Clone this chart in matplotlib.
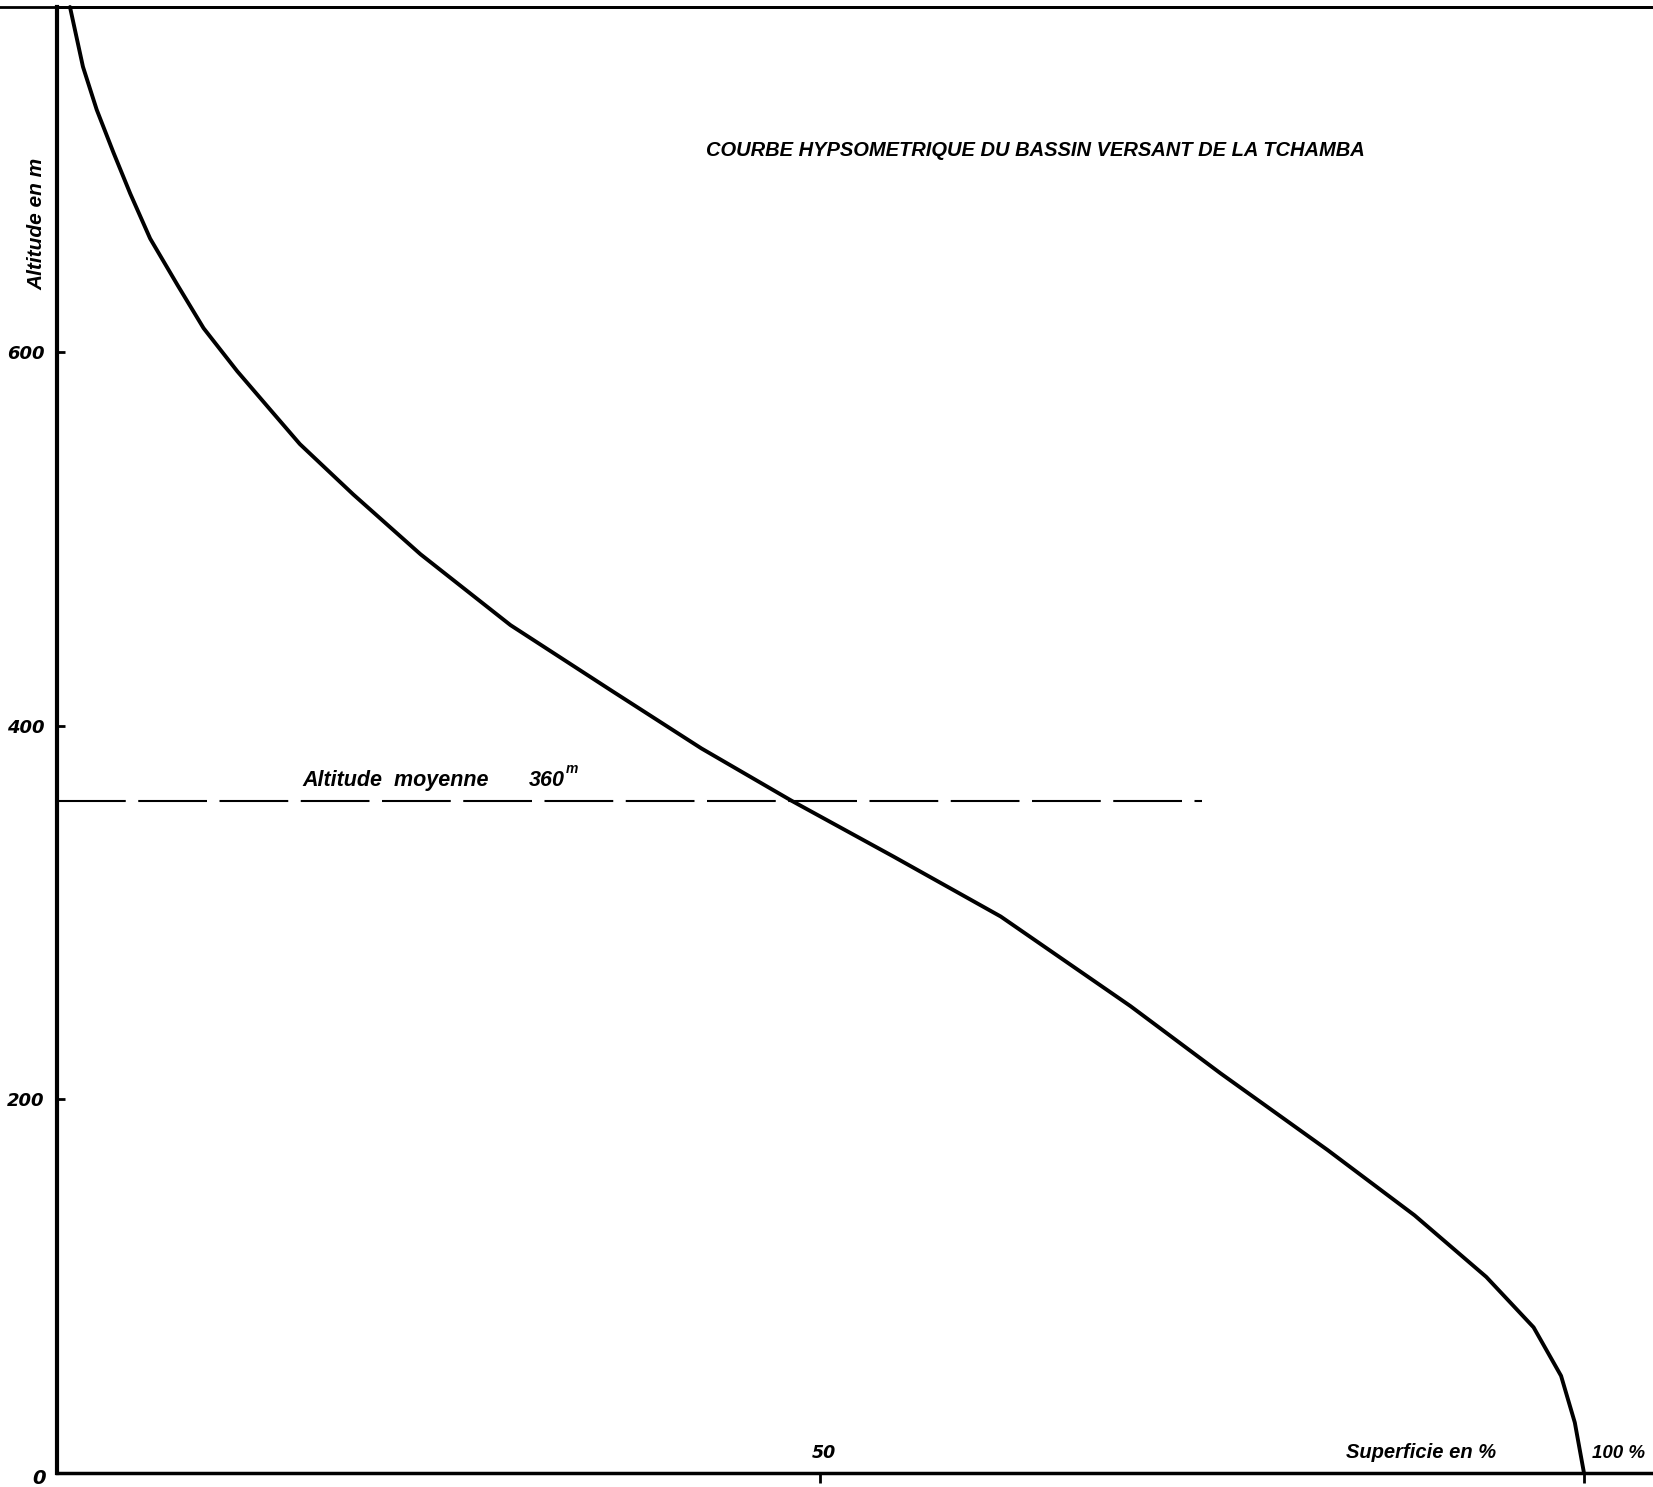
import matplotlib
matplotlib.use("Agg")
import matplotlib.pyplot as plt

# hypsometric curve: area above altitude (%) vs altitude (m)
superficie = [0.85, 1.7, 2.6, 3.7, 4.8, 6.1, 7.9, 9.6, 11.8, 13.9, 15.9, 19.4,
              23.8, 29.7, 36.3, 42.2, 48.1, 54.8, 61.8, 70.3, 76.2, 83.2,
              88.9, 93.6, 96.7, 98.5, 99.4, 100.0]
altitude = [785, 753, 730, 707, 685, 661, 636, 613, 590, 570, 551, 524,
            492, 454, 419, 388, 360, 330, 298, 250, 214, 173,
            138, 105, 78, 52, 27, 0]

altitude_moyenne = 360
dashed_end = 75.0          # % where the mean-altitude line stops
y_ticks = [200, 400, 600]
x_ticks = [50, 100]

hand = ["Liberation Sans", "DejaVu Sans"]

fig = plt.figure(figsize=(16.53, 14.87), dpi=100)
ax = fig.add_axes([57 / 1653, 14 / 1487, 1 - 57 / 1653, 1466 / 1487])
ax.set_xlim(0, 104.52)
ax.set_ylim(0, 785)

# curve
ax.plot(superficie, altitude, color="black", lw=2.8, solid_capstyle="round",
        solid_joinstyle="round", clip_on=False)

# mean altitude dashed line
ax.plot([0, dashed_end], [altitude_moyenne, altitude_moyenne], color="black",
        lw=1.5, dashes=(33, 6))
ax.text(16.1, altitude_moyenne + 5, "Altitude  moyenne", family=hand,
        style="italic", weight="bold", fontsize=15.5, ha="left", va="bottom")
ax.text(30.9, altitude_moyenne + 5, "360", family=hand,
        style="italic", weight="bold", fontsize=15.5, ha="left", va="bottom")
ax.text(33.3, altitude_moyenne + 13, "m", family=hand,
        style="italic", weight="bold", fontsize=10, ha="left", va="bottom")

# axes look: left + bottom + top line
ax.spines["right"].set_visible(False)
ax.spines["left"].set_linewidth(3)
ax.spines["bottom"].set_linewidth(2.5)
ax.spines["top"].set_linewidth(2)
ax.axhline(785, xmin=-0.04, xmax=1, color="black", lw=2, clip_on=False)

ax.set_yticks(y_ticks)
ax.set_yticklabels([str(v) for v in y_ticks])
ax.tick_params(axis="y", direction="in", length=6, width=2, pad=9)
ax.set_xticks(x_ticks)
ax.set_xticklabels([])
ax.tick_params(axis="x", direction="out", length=7, width=2)
for lab in ax.get_yticklabels():
    lab.set_fontstyle("italic")
    lab.set_fontweight("bold")
    lab.set_fontsize(13)

ax.text(-1.2, -3, "0", fontsize=14, style="italic", weight="bold",
        ha="center", va="center", clip_on=False)
ax.text(50.2, 6, "50", fontsize=12.5, style="italic", weight="bold",
        ha="center", va="bottom")
ax.text(100.5, 6, "100 %", family=hand, fontsize=13.5, style="italic",
        weight="bold", ha="left", va="bottom")
ax.text(89.3, 6, "Superficie en %", family=hand, fontsize=14.5, style="italic",
        weight="bold", ha="center", va="bottom")

fig.text(37 / 1653, 1 - 224 / 1487, "Altitude en m", family=hand, fontsize=15,
         style="italic", weight="bold", rotation=90, ha="center", va="center")
fig.text(1035 / 1653, 1 - 150 / 1487,
         "COURBE HYPSOMETRIQUE DU BASSIN VERSANT DE LA TCHAMBA",
         family=hand, fontsize=14.5, style="italic", weight="bold",
         ha="center", va="center")

fig.savefig("out.png", dpi=100)
